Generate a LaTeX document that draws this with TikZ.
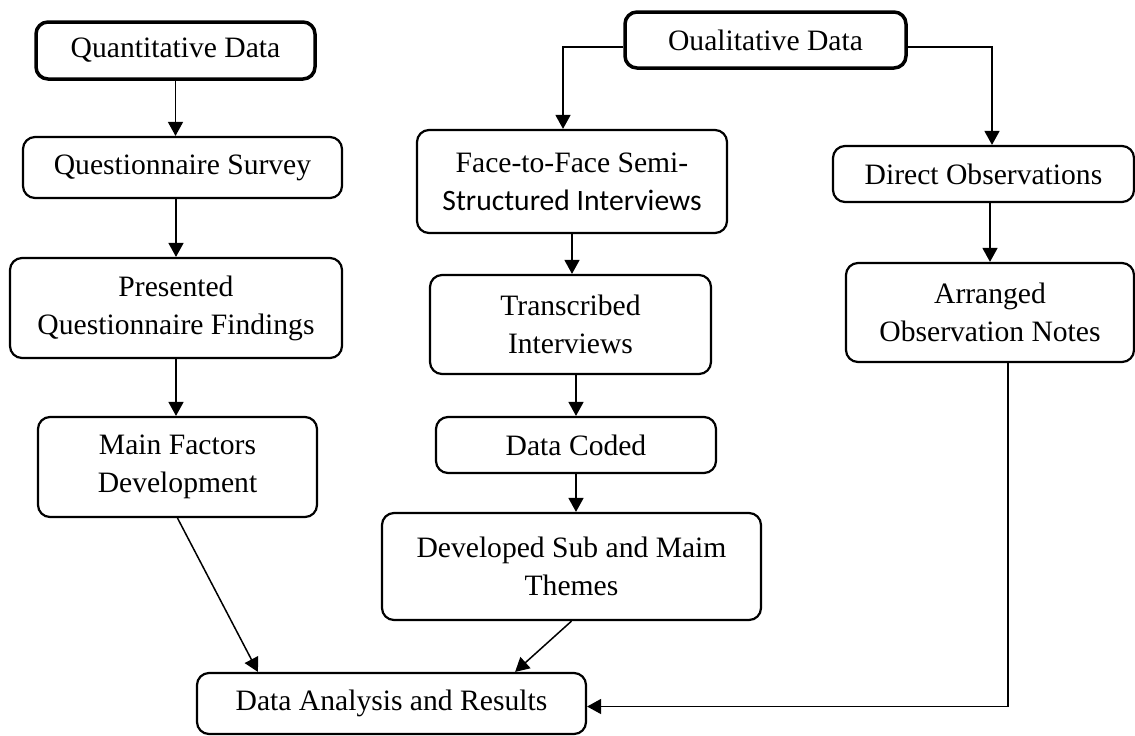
\documentclass[tikz,border=0pt]{standalone}
\usepackage{fontspec}
\setmainfont{Liberation Serif}
\newfontfamily\calibrifont{Carlito}
\usetikzlibrary{arrows.meta,calc}
\begin{document}
\begin{tikzpicture}[x=0.5pt,y=-0.5pt,
  box/.style={draw,line width=1.1pt,rounded corners=6pt,inner sep=0pt,align=center,
    font=\fontsize{14.8pt}{19pt}\selectfont},
  thickbox/.style={box,line width=1.75pt},
  arr/.style={line width=0.75pt,-{Triangle[length=7pt,width=7.5pt]}}]
\useasboundingbox (0,0) rectangle (1135,735);
% left column
\node[thickbox,minimum width=139.5pt,minimum height=28.5pt] (quant) at (175.5,50.5) {Quantitative Data};
\node[box,minimum width=159.5pt,minimum height=30.5pt] (qs) at (182.5,167.5) {Questionnaire Survey};
\node[box,minimum width=166pt,minimum height=50pt] (pqf) at (176,308) {Presented\\Questionnaire Findings};
\node[box,minimum width=139.5pt,minimum height=50pt] (mfd) at (177.5,467) {Main Factors\\Development};
% middle column
\node[thickbox,minimum width=140.5pt,minimum height=28pt] (qual) at (765.5,40) {Oualitative Data};
\node[box,minimum width=155pt,minimum height=51.5pt] (face) at (572,181.5) {Face-to-Face Semi-\\{\calibrifont Structured Interviews}};
\node[box,minimum width=140.5pt,minimum height=49.5pt] (trans) at (570.5,324.5) {Transcribed\\Interviews};
\node[box,minimum width=140pt,minimum height=28pt] (coded) at (576,445) {Data Coded};
\node[box,minimum width=189.5pt,minimum height=53.5pt] (dev) at (571.5,566.5) {Developed Sub and Maim\\Themes};
% right column
\node[box,minimum width=150.5pt,minimum height=28pt] (direct) at (983.5,174) {Direct Observations};
\node[box,minimum width=144pt,minimum height=49.5pt] (arranged) at (990,312.5) {Arranged\\Observation Notes};
% bottom
\node[box,minimum width=194.5pt,minimum height=30.5pt] (dar) at (391.5,703.5) {Data Analysis and Results};
% connectors
\draw[arr] (quant.south) -- (quant.south |- qs.north);
\draw[arr] (pqf.north |- qs.south) -- (pqf.north);
\draw[arr] (pqf.south) -- (pqf.south |- mfd.north);
\draw[arr] (mfd.south) -- ($(dar.north west)+(62,0)$);
\draw[arr] ($(qual.west)+(0,7)$) -| ($(face.north)+(-9,0)$);
\draw[arr] ($(qual.east)+(0,7)$) -| ($(direct.north)+(8.5,0)$);
\draw[arr] (face.south) -- (face.south |- trans.north);
\draw[arr] (coded.north |- trans.south) -- (coded.north);
\draw[arr] (coded.south) -- (coded.south |- dev.north);
\draw[arr] (dev.south) -- ($(dar.north east)+(-72,0)$);
\draw[arr] (arranged.north |- direct.south) -- (arranged.north);
\draw[arr] ($(arranged.south)+(18,0)$) |- ($(dar.east)+(0,3)$);
\end{tikzpicture}
\end{document}
